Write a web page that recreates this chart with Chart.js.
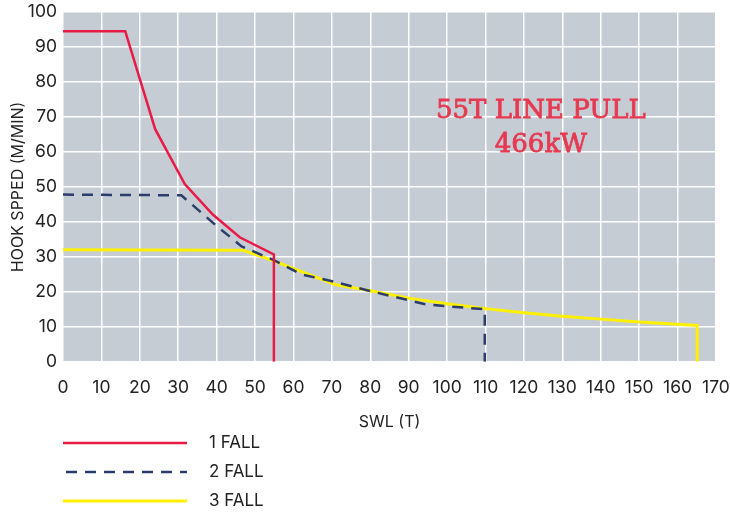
<!DOCTYPE html>
<html>
<head>
<meta charset="utf-8">
<script src="https://cdn.jsdelivr.net/npm/chart.js@4.4.1/dist/chart.umd.min.js"></script>
<style>
  html, body { margin: 0; padding: 0; background: #ffffff; }
  #wrap { width: 730px; height: 517px; }
</style>
</head>
<body>
<div id="wrap"><canvas id="hookChart" width="730" height="517"></canvas></div>
<script>
  // SWL (T) / HOOK SPEED (M/MIN) curves
  const fall1_swl   = [0, 16.2, 24, 31.7, 39, 46, 54.9, 54.9];
  const fall1_speed = [94.5, 94.5, 66.5, 50.8, 42.1, 35.6, 30.7, 0];

  const fall2_swl   = [0, 30.8, 39.5, 46.5, 55, 62, 71, 80, 90, 94, 101, 109.8, 109.8];
  const fall2_speed = [47.8, 47.6, 39.3, 33, 29, 25, 22.8, 20.2, 17.6, 16.5, 15.8, 15, 0];

  const fall3_swl   = [0, 46.9, 54.7, 61.6, 70.8, 80, 90, 100, 110, 120, 130, 140, 150, 165.1, 165.1];
  const fall3_speed = [32, 31.9, 28.9, 26, 22.1, 20.3, 18.2, 16.6, 15.2, 14, 13, 12.2, 11.4, 10.4, 0];

  const xTicks = [0, 10, 20, 30, 40, 50, 60, 70, 80, 90, 100, 110, 120, 130, 140, 150, 160, 170];
  const yTicks = [0, 10, 20, 30, 40, 50, 60, 70, 80, 90, 100];

  const noteLines = ["55T LINE PULL", "466kW"];

  function toPoints(xs, ys) {
    return xs.map((x, i) => ({ x: x, y: ys[i] }));
  }

  // grey plot background
  const plotBackground = {
    id: "plotBackground",
    beforeDraw(chart) {
      const a = chart.chartArea;
      const ctx = chart.ctx;
      ctx.save();
      ctx.fillStyle = "#c5ccd3";
      ctx.fillRect(a.left, a.top, a.right - a.left, a.bottom - a.top);
      ctx.restore();
    }
  };

  // red note inside the plot
  const notePlugin = {
    id: "notePlugin",
    afterDatasetsDraw(chart) {
      const ctx = chart.ctx;
      const xs = chart.scales.x;
      const ys = chart.scales.y;
      const cx = xs.getPixelForValue(124.4);
      ctx.save();
      ctx.fillStyle = "#e63950";
      ctx.strokeStyle = "#e63950";
      ctx.lineWidth = 0.8;
      ctx.font = "26px 'DejaVu Serif'";
      ctx.textAlign = "center";
      ctx.textBaseline = "middle";
      noteLines.forEach((t, i) => {
        const y = ys.getPixelForValue(i === 0 ? 71.5 : 61.8);
        ctx.fillText(t, cx, y);
        ctx.strokeText(t, cx, y);
      });
      ctx.restore();
    }
  };

  // legend under the axis title
  const bottomLegend = {
    id: "bottomLegend",
    afterDraw(chart) {
      const ctx = chart.ctx;
      const left = chart.chartArea.left;
      ctx.save();
      chart.data.datasets.forEach((ds, i) => {
        const y = 443 + i * 29;
        ctx.strokeStyle = ds.borderColor;
        ctx.lineWidth = ds.borderWidth;
        ctx.setLineDash(ds.borderDash || []);
        ctx.beginPath();
        ctx.moveTo(left + (ds.borderDash ? 3 : 0), y);
        ctx.lineTo(187, y);
        ctx.stroke();
        ctx.setLineDash([]);
        ctx.fillStyle = "#222222";
        ctx.font = "17px Inter";
        ctx.textBaseline = "middle";
        ctx.fillText(ds.label, 209, y);
      });
      ctx.restore();
    }
  };

  const config_hook = {
    type: "line",
    data: {
      datasets: [{
        label: "1 FALL",
        data: toPoints(fall1_swl, fall1_speed),
        borderColor: "#ea1a47",
        borderWidth: 2.5
      }, {
        label: "2 FALL",
        data: toPoints(fall2_swl, fall2_speed),
        borderColor: "#2a3d6c",
        borderWidth: 2.5,
        borderDash: [11, 8]
      }, {
        label: "3 FALL",
        data: toPoints(fall3_swl, fall3_speed),
        borderColor: "#fff000",
        borderWidth: 3
      }]
    },
    options: {
      responsive: false,
      animation: false,
      layout: { padding: { left: 0, right: 0, top: 0, bottom: 82 } },
      elements: { point: { radius: 0 }, line: { tension: 0, fill: false } },
      plugins: { legend: { display: false }, tooltip: { enabled: false } },
      scales: {
        x: {
          type: "linear",
          min: 0, max: 170,
          afterBuildTicks(axis) { axis.ticks = xTicks.map(v => ({ value: v })); },
          afterFit(axis) { axis.paddingRight = 14; },
          grid: { color: "#ffffff", lineWidth: 1.5, drawTicks: false },
          border: { display: false },
          ticks: { color: "#222222", font: { family: "Inter", size: 17.5 }, padding: 15 },
          title: { display: true, text: "SWL (T)", color: "#222222", font: { family: "Inter", size: 16 }, padding: { top: 0, bottom: 3 } }
        },
        y: {
          min: 0, max: 100,
          afterBuildTicks(axis) { axis.ticks = yTicks.map(v => ({ value: v })); },
          afterFit(axis) { axis.width = 63; axis.paddingTop = 12; },
          grid: { color: "#ffffff", lineWidth: 1.5, drawTicks: false },
          border: { display: false },
          ticks: { color: "#222222", font: { family: "Inter", size: 17.5 }, padding: 6 },
          title: { display: true, text: "HOOK SPPED (M/MIN)", color: "#222222", font: { family: "Inter", size: 16 }, padding: { top: 9, bottom: 0 } }
        }
      }
    },
    plugins: [plotBackground, notePlugin, bottomLegend]
  };

  var myChartHook = new Chart(document.getElementById("hookChart"), config_hook);
</script>
</body>
</html>
